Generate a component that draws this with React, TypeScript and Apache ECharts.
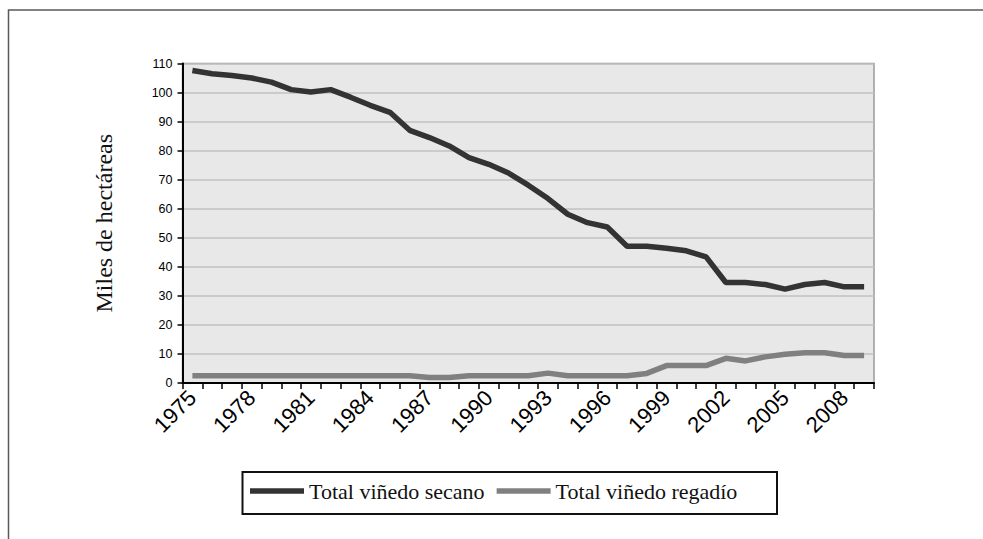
import React, { useEffect, useRef } from "react";
import * as echarts from "echarts";

const years = [
  "1975", "1976", "1977", "1978", "1979", "1980", "1981", "1982", "1983", "1984",
  "1985", "1986", "1987", "1988", "1989", "1990", "1991", "1992", "1993", "1994",
  "1995", "1996", "1997", "1998", "1999", "2000", "2001", "2002", "2003", "2004",
  "2005", "2006", "2007", "2008", "2009",
];

const secano = [
  107.6, 106.5, 105.9, 105.0, 103.6, 101.0, 100.2, 101.0, 98.4, 95.6,
  93.2, 87.0, 84.5, 81.6, 77.6, 75.3, 72.3, 68.1, 63.5, 58.1,
  55.2, 53.7, 47.1, 47.1, 46.4, 45.5, 43.4, 34.6, 34.6, 33.9,
  32.3, 33.9, 34.6, 33.1, 33.1,
];

const regadio = [
  2.5, 2.5, 2.5, 2.5, 2.5, 2.5, 2.5, 2.5, 2.5, 2.5,
  2.5, 2.5, 1.9, 1.9, 2.5, 2.5, 2.5, 2.5, 3.4, 2.5,
  2.5, 2.5, 2.5, 3.3, 6.0, 6.0, 6.0, 8.5, 7.6, 9.0,
  9.9, 10.4, 10.4, 9.5, 9.5,
];

const seriesNames = ["Total viñedo secano", "Total viñedo regadío"];
const yTitle = "Miles de hectáreas";

export default function App() {
  const ref = useRef<HTMLDivElement>(null);
  useEffect(() => {
    if (!ref.current) return;
    const chart = echarts.init(ref.current, null, { renderer: "svg" });
    chart.setOption({
      animation: false,
      backgroundColor: "#ffffff",
      grid: {
        left: 182.5,
        top: 63.5,
        width: 691.5,
        height: 319.5,
        show: true,
        backgroundColor: "#e8e8e8",
        borderColor: "#9a9a9a",
        borderWidth: 1.5,
        containLabel: false,
      },
      xAxis: {
        type: "category",
        data: years,
        boundaryGap: true,
        axisLine: { show: true, lineStyle: { color: "#000", width: 2 } },
        axisTick: { show: true, interval: 0, length: 6, lineStyle: { color: "#000", width: 1.5 } },
        axisLabel: {
          interval: 2,
          rotate: 45,
          margin: 11,
          fontFamily: "Liberation Sans",
          fontSize: 22,
          color: "#000",
        },
        splitLine: { show: false },
      },
      yAxis: {
        type: "value",
        min: 0,
        max: 110,
        interval: 10,
        name: yTitle,
        nameLocation: "middle",
        nameRotate: 90,
        nameGap: 67,
        nameTextStyle: { fontFamily: "Liberation Serif", fontSize: 24, color: "#111" },
        axisLine: { show: true, lineStyle: { color: "#000", width: 2 } },
        axisTick: { show: true, length: 5, lineStyle: { color: "#000", width: 1.5 } },
        axisLabel: { fontFamily: "Liberation Sans", fontSize: 12.5, color: "#000", margin: 10 },
        splitLine: { show: true, lineStyle: { color: "#c2c2c2", width: 1.5 } },
      },
      legend: {
        left: 250,
        top: 480,
        icon: "rect",
        itemWidth: 54,
        itemHeight: 5.5,
        itemGap: 12,
        padding: 0,
        textStyle: { fontFamily: "Liberation Serif", fontSize: 22, color: "#111", lineHeight: 22 },
        data: seriesNames,
      },
      graphic: [
        {
          type: "rect",
          shape: { x: 8.5, y: 10, width: 1100, height: 700 },
          style: { fill: "none", stroke: "#5a5a5a", lineWidth: 1.5 },
          silent: true,
        },
        {
          type: "rect",
          shape: { x: 242.5, y: 472, width: 534.5, height: 42 },
          style: { fill: "none", stroke: "#111", lineWidth: 2 },
          silent: true,
        },
      ],
      series: [
        {
          name: seriesNames[0],
          type: "line",
          data: secano,
          showSymbol: false,
          lineStyle: { color: "#333333", width: 5.5 },
          itemStyle: { color: "#333333" },
        },
        {
          name: seriesNames[1],
          type: "line",
          data: regadio,
          showSymbol: false,
          lineStyle: { color: "#808080", width: 5.5 },
          itemStyle: { color: "#808080" },
        },
      ],
    });
    return () => chart.dispose();
  }, []);
  return (
    <div
      ref={ref}
      style={{ position: "fixed", left: 0, top: 0, width: 983, height: 539, background: "#fff" }}
    />
  );
}
